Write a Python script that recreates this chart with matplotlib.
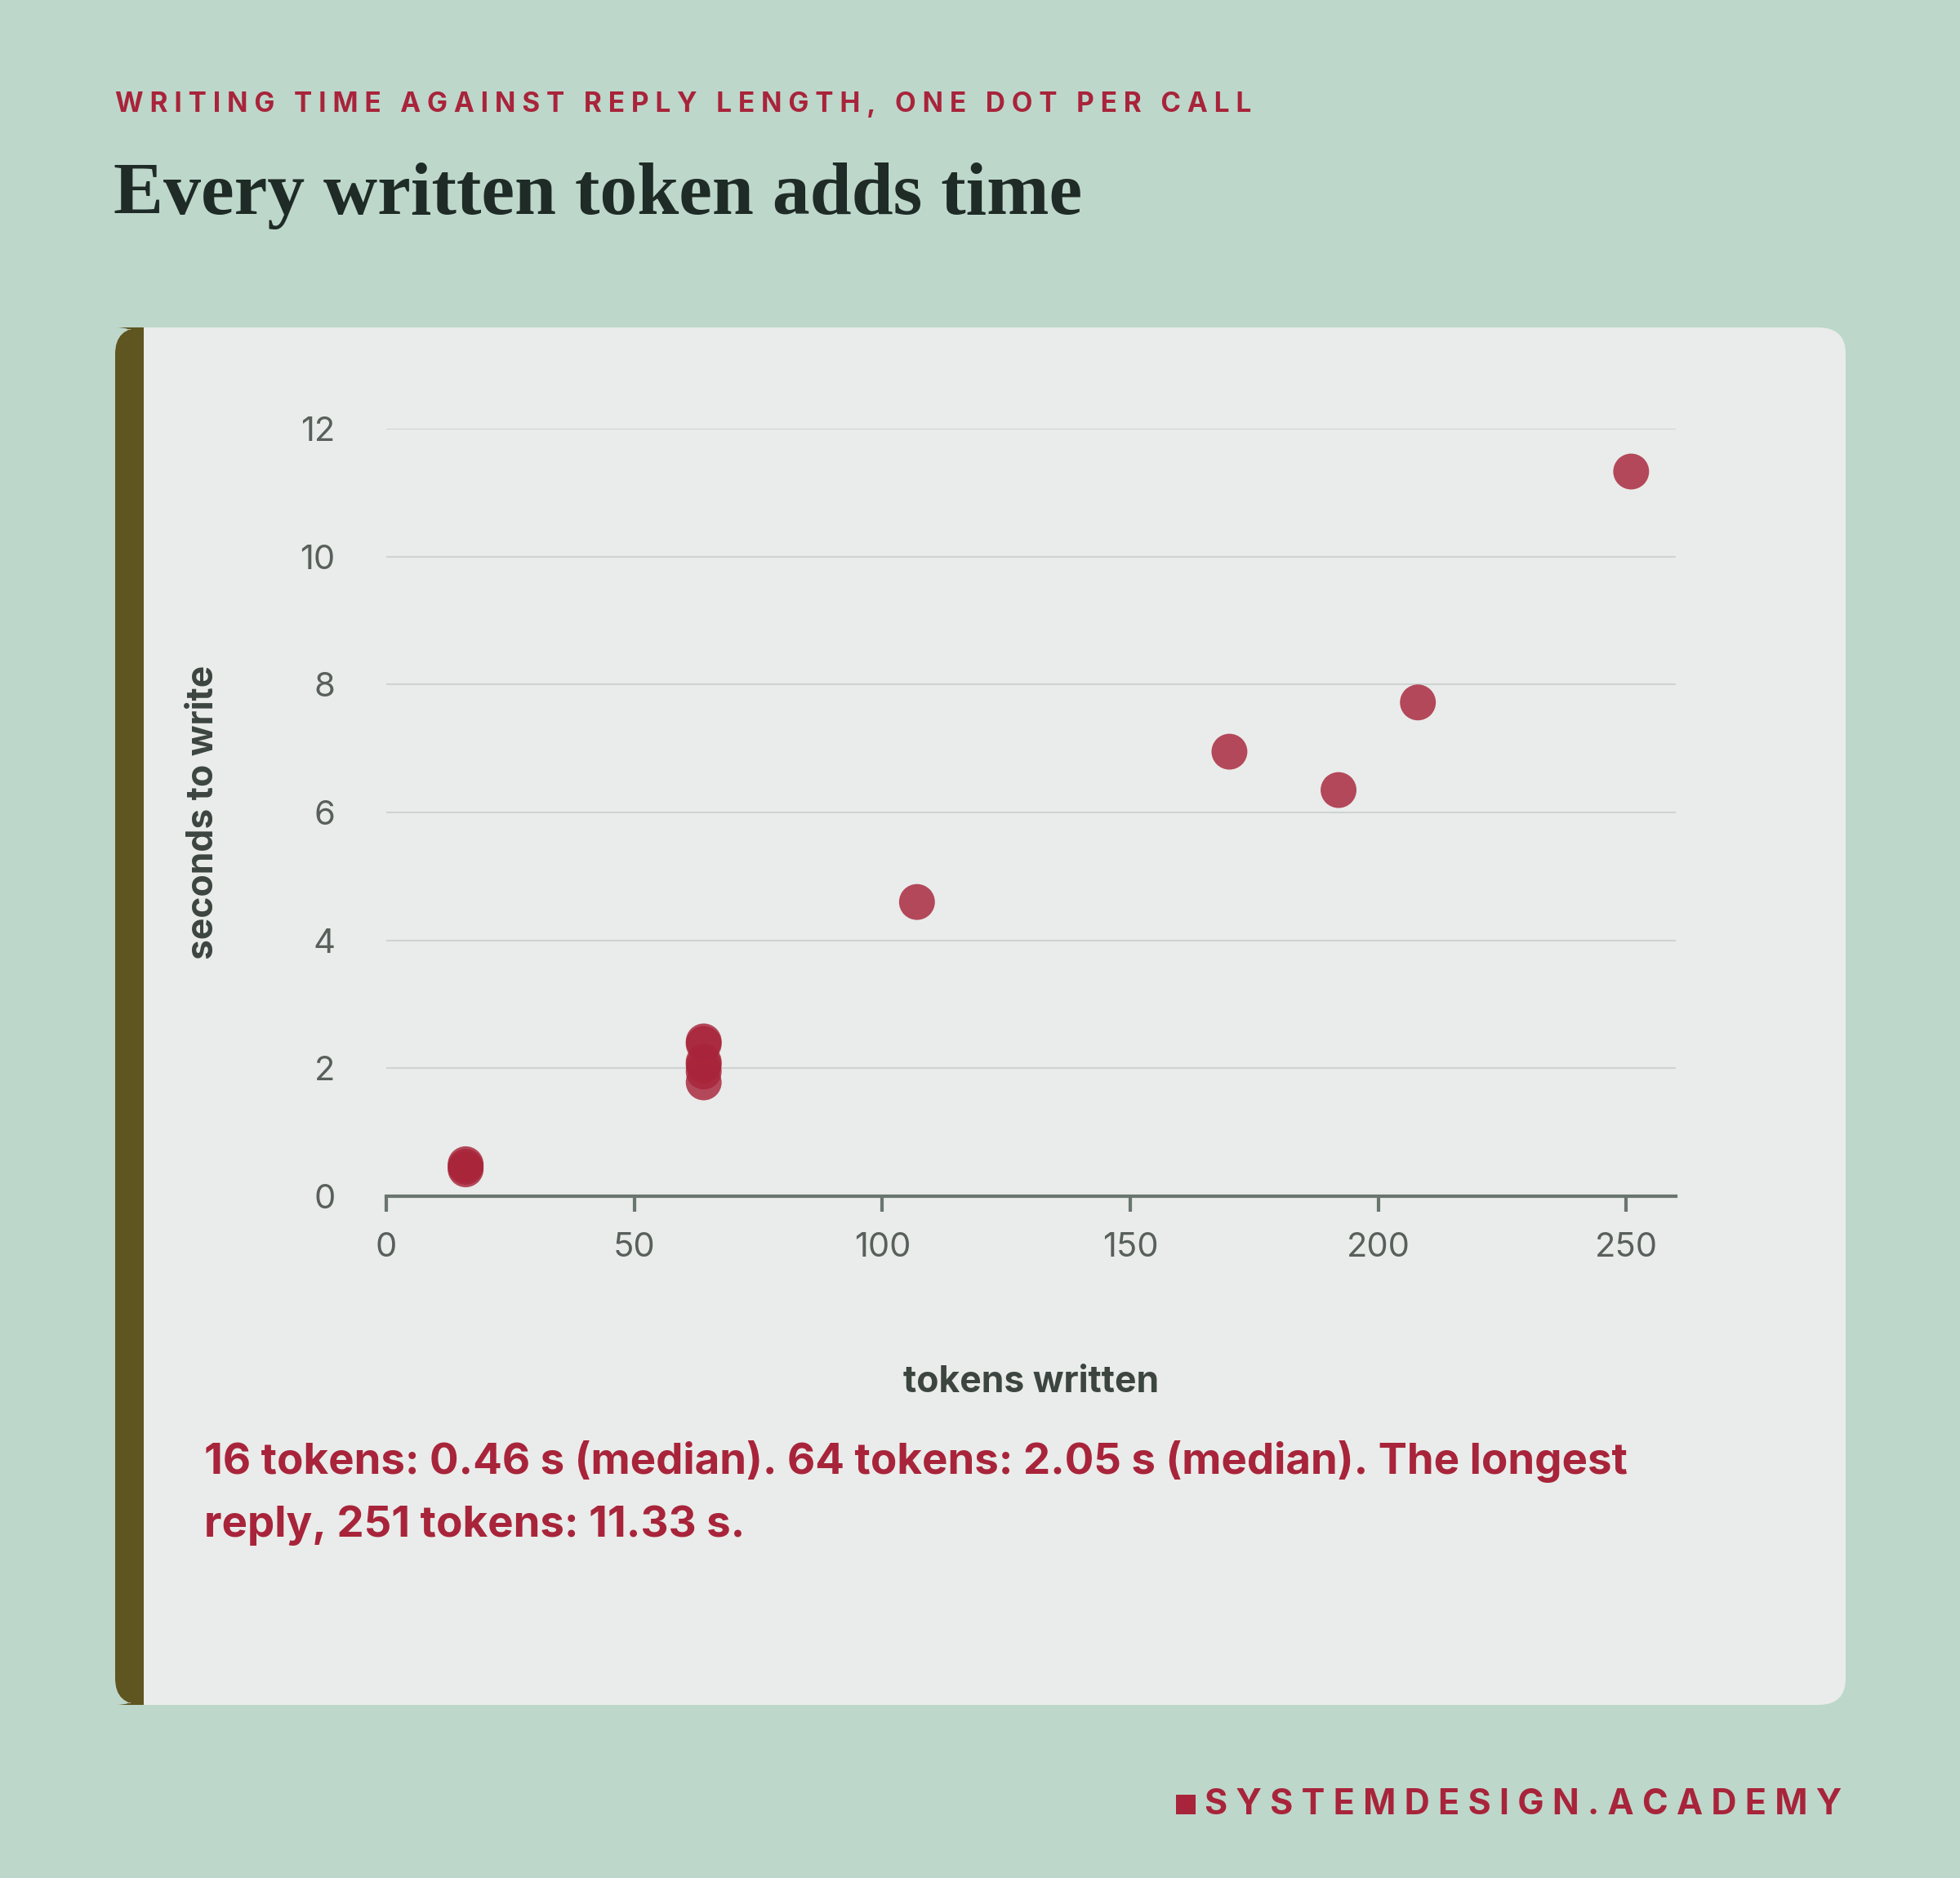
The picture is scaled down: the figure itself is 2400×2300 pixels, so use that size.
import matplotlib
matplotlib.use("Agg")
import matplotlib.pyplot as plt
from matplotlib.patches import FancyBboxPatch, Rectangle

tokens = [16, 16, 16, 64, 64, 64, 64, 64, 64, 107, 170, 192, 208, 251]
seconds = [0.42, 0.46, 0.50, 1.78, 1.95, 2.05, 2.10, 2.38, 2.42, 4.60, 6.95, 6.35, 7.72, 11.33]
xticks = [0, 50, 100, 150, 200, 250]
yticks = [0, 2, 4, 6, 8, 10, 12]

W, H = 2400, 2300
BG = "#bdd7cb"
CARD = "#e9ecea"
RED = "#a8243a"
SANS = ["Inter", "DejaVu Sans"]
fig = plt.figure(figsize=(24, 23), dpi=100, facecolor=BG)

def fx(px): return px / W
def fy(py): return 1 - py / H

card = FancyBboxPatch((fx(141), fy(2088)), fx(2260) - fx(141), fy(401) - fy(2088),
                      boxstyle="round,pad=0,rounding_size=0.014", transform=fig.transFigure,
                      facecolor=CARD, edgecolor="none", zorder=0)
fig.patches.append(card)
bar = FancyBboxPatch((fx(141), fy(2088)), fx(176) - fx(141), fy(401) - fy(2088),
                     boxstyle="round,pad=0,rounding_size=0.014", transform=fig.transFigure,
                     facecolor="#5e5520", edgecolor="none", zorder=0.5)
fig.patches.append(bar)
fig.patches.append(Rectangle((fx(160), fy(2088)), fx(176) - fx(160), fy(401) - fy(2088),
                             transform=fig.transFigure, facecolor="#5e5520", edgecolor="none", zorder=0.5))

fig.text(fx(141), fy(128), "W R I T I N G   T I M E   A G A I N S T   R E P L Y   L E N G T H ,   O N E   D O T   P E R   C A L L",
         color=RED, fontsize=24, fontweight="bold", va="center", family=SANS)
fig.text(fx(139), fy(240), "Every written token adds time", color="#1f2b26",
         fontsize=66, fontweight="bold", va="center", family=["Liberation Serif", "DejaVu Serif"])

ax = fig.add_axes([fx(473), fy(1465), fx(2052) - fx(473), fy(525) - fy(1465)], zorder=5)
ax.set_facecolor("none")
ax.scatter(tokens, seconds, s=1000, color=RED, alpha=0.82, edgecolors="none", zorder=3)
ax.set_xlim(0, 260)
ax.set_ylim(0, 12)
ax.set_xticks(xticks)
ax.set_yticks(yticks)
ax.grid(axis="y", color="#cfd3d1", linewidth=1.5)
ax.set_axisbelow(True)
for s in ["top", "right", "left"]:
    ax.spines[s].set_visible(False)
ax.spines["bottom"].set_color("#6b7570")
ax.spines["bottom"].set_linewidth(3)
ax.tick_params(axis="x", colors="#6b7570", length=14, width=3, labelsize=30, pad=18, labelcolor="#59605c")
ax.tick_params(axis="y", length=0, labelsize=30, pad=45, labelcolor="#59605c")
for lab in ax.get_xticklabels() + ax.get_yticklabels():
    lab.set_family(SANS)
ax.set_xlabel("tokens written", fontsize=32, fontweight="bold", color="#3c4540", labelpad=90, family=SANS)
ax.set_ylabel("seconds to write", fontsize=32, fontweight="bold", color="#3c4540", labelpad=70, family=SANS)

fig.text(fx(250), fy(1790), "16 tokens: 0.46 s (median). 64 tokens: 2.05 s (median). The longest",
         color=RED, fontsize=38, fontweight="bold", va="center", family=SANS)
fig.text(fx(250), fy(1868), "reply, 251 tokens: 11.33 s.", color=RED, fontsize=38,
         fontweight="bold", va="center", family=SANS)

fig.patches.append(Rectangle((fx(1440), fy(2222)), fx(1464) - fx(1440), fy(2198) - fy(2222),
                             transform=fig.transFigure, facecolor=RED, edgecolor="none"))
fig.text(fx(2255), fy(2210), "S Y S T E M D E S I G N . A C A D E M Y", color=RED,
         fontsize=31, fontweight="bold", va="center", ha="right", family=SANS)

fig.savefig("out.png", dpi=100, facecolor=BG)
